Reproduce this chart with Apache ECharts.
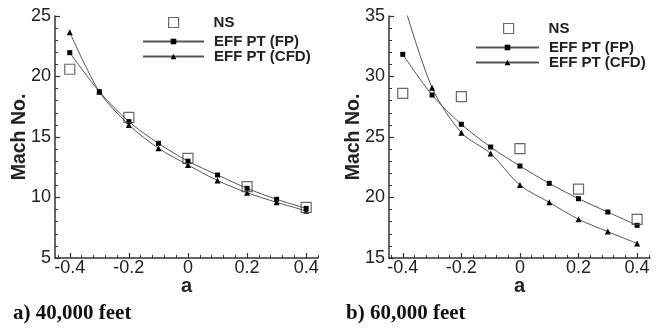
<!DOCTYPE html>
<html>
<head>
<meta charset="utf-8">
<script src="https://cdn.jsdelivr.net/npm/echarts@6/dist/echarts.min.js"></script>
<style>html,body{margin:0;padding:0;background:#fff;}#c{width:662px;height:330px;}</style>
</head>
<body>
<div id="c"></div>
<script>
// ---- data ----
const aValues = [-0.4, -0.3, -0.2, -0.1, 0, 0.1, 0.2, 0.3, 0.4];
const nsA = [-0.4, -0.2, 0, 0.2, 0.4];

const leftFP  = [21.97, 18.75, 16.27, 14.48, 13.0, 11.86, 10.76, 9.85, 9.1];
const leftCFD = [23.65, 18.75, 16.0, 14.07, 12.69, 11.4, 10.4, 9.6, 8.9];
const leftNS  = [20.6, 16.63, 13.24, 10.9, 9.19];

const rightFP  = [31.83, 28.47, 26.05, 24.17, 22.6, 21.17, 19.9, 18.8, 17.7];
const rightCFD = [36.3, 29.08, 25.36, 23.63, 21.03, 19.6, 18.2, 17.18, 16.2];
const rightNS  = [28.6, 28.34, 24.04, 20.7, 18.2];

const xMajorTicks = [-0.4, -0.2, 0, 0.2, 0.4];
const xMinorTicks = [-0.44, -0.36, -0.32, -0.28, -0.24, -0.16, -0.12, -0.08, -0.04,
                     0.04, 0.08, 0.12, 0.16, 0.24, 0.28, 0.32, 0.36, 0.44];
const leftYTicks = [5, 10, 15, 20, 25];
const rightYTicks = [15, 20, 25, 30, 35];
const leftYMinor = [6,7,8,9,11,12,13,14,16,17,18,19,21,22,23,24];
const rightYMinor = [16,17,18,19,21,22,23,24,26,27,28,29,31,32,33,34];

const seriesNames = ['NS', 'EFF PT (FP)', 'EFF PT (CFD)'];
const yName = 'Mach No.';
const xName = 'a';
const captions = ['a) 40,000 feet', 'b) 60,000 feet'];

// ---- helpers ----
const pair = (xs, ys) => xs.map((x, i) => [x, ys[i]]);
const AX = '#333';
const FONT = 'Liberation Sans, Arial, sans-serif';

function mainX(grid, min, max) {
  return {
    type: 'value', gridIndex: grid, min: min, max: max,
    name: xName, nameLocation: 'middle', nameGap: 18, nameMoveOverlap: false,
    nameTextStyle: { fontFamily: FONT, fontWeight: 'bold', fontSize: 20, color: '#222' },
    axisLine: { show: true, onZero: false, lineStyle: { color: AX, width: 1.5 } },
    axisTick: { show: true, inside: true, length: 5, customValues: xMajorTicks, lineStyle: { color: AX, width: 1.2 } },
    axisLabel: { show: true, margin: 1, customValues: xMajorTicks, fontFamily: FONT, fontSize: 18, color: '#222' },
    splitLine: { show: false }
  };
}
function minorX(grid, min, max) {
  return {
    type: 'value', gridIndex: grid, min: min, max: max, position: 'bottom',
    axisLine: { show: false, onZero: false },
    axisTick: { show: true, inside: true, length: 3, customValues: xMinorTicks, lineStyle: { color: AX, width: 1 } },
    axisLabel: { show: false },
    splitLine: { show: false }
  };
}
function mainY(grid, min, max, ticks) {
  return {
    type: 'value', gridIndex: grid, min: min, max: max,
    name: yName, nameLocation: 'middle', nameGap: 25, nameMoveOverlap: false,
    nameTextStyle: { fontFamily: FONT, fontWeight: 'bold', fontSize: 19.5, color: '#222' },
    axisLine: { show: true, onZero: false, lineStyle: { color: AX, width: 1.5 } },
    axisTick: { show: true, inside: true, length: 5, customValues: ticks, lineStyle: { color: AX, width: 1.2 } },
    axisLabel: { show: true, margin: 4, customValues: ticks, fontFamily: FONT, fontSize: 18, color: '#222' },
    splitLine: { show: false }
  };
}
function minorY(grid, min, max, ticks) {
  return {
    type: 'value', gridIndex: grid, min: min, max: max, position: 'left',
    axisLine: { show: false, onZero: false },
    axisTick: { show: true, inside: true, length: 3, customValues: ticks, lineStyle: { color: AX, width: 1 } },
    axisLabel: { show: false },
    splitLine: { show: false }
  };
}
function nsSeries(xi, yi, data) {
  return {
    type: 'scatter', name: seriesNames[0], xAxisIndex: xi, yAxisIndex: yi,
    data: pair(nsA, data), symbol: 'rect', symbolSize: 10, z: 3,
    itemStyle: { color: 'rgba(255,255,255,0)', borderColor: '#444', borderWidth: 1.2 }
  };
}
function lineSeries(name, xi, yi, data, sym, size) {
  return {
    type: 'line', name: name, xAxisIndex: xi, yAxisIndex: yi,
    data: pair(aValues, data), symbol: sym, symbolSize: size, smooth: 0.3, clip: true, z: 2,
    showAllSymbol: true,
    itemStyle: { color: '#000' },
    lineStyle: { color: '#555', width: 1 }
  };
}
const legendText = { fontFamily: FONT, fontWeight: 'bold', fontSize: 15, color: '#222' };
function legends(nsCenterX, lineLeft, lineW, nsCenterY, fpCenterY) {
  return [
    {
      left: nsCenterX - 5, top: nsCenterY - 8, padding: 0, orient: 'vertical', itemWidth: 10, itemHeight: 10,
      data: [{ name: seriesNames[0], icon: 'rect',
               itemStyle: { color: 'rgba(255,255,255,0)', borderColor: '#444', borderWidth: 1.2 } }],
      textStyle: Object.assign({ padding: [0, 0, 0, lineLeft + lineW + 5 - (nsCenterX + 5)] }, legendText),
      selectedMode: false
    },
    {
      left: lineLeft, top: fpCenterY - 6, padding: 0, orient: 'vertical', itemWidth: lineW, itemHeight: 7, itemGap: 0,
      data: [seriesNames[1], seriesNames[2]],
      textStyle: Object.assign({ padding: [0, 0, 0, 5] }, legendText),
      selectedMode: false
    }
  ];
}

const chart = echarts.init(document.getElementById('c'), null, { renderer: 'canvas' });
chart.setOption({
  animation: false,
  backgroundColor: '#fff',
  grid: [
    { left: 55, top: 16, width: 263, height: 242 },
    { left: 389, top: 16, width: 261, height: 242 }
  ],
  xAxis: [
    mainX(0, -0.45, 0.44), minorX(0, -0.45, 0.44),
    mainX(1, -0.447, 0.444), minorX(1, -0.447, 0.444)
  ],
  yAxis: [
    mainY(0, 5, 25, leftYTicks), minorY(0, 5, 25, leftYMinor),
    mainY(1, 15, 35, rightYTicks), minorY(1, 15, 35, rightYMinor)
  ],
  legend: legends(173, 142, 61, 23, 40).concat(legends(508, 475, 63, 29, 46)),
  title: [
    { text: captions[0], left: 13, top: 303, padding: 0, textStyle: { fontFamily: 'Liberation Serif, Times New Roman, serif', fontWeight: 'bold', fontSize: 21, color: '#111' } },
    { text: captions[1], left: 346, top: 303, padding: 0, textStyle: { fontFamily: 'Liberation Serif, Times New Roman, serif', fontWeight: 'bold', fontSize: 21, color: '#111' } }
  ],
  series: [
    nsSeries(0, 0, leftNS),
    lineSeries(seriesNames[1], 0, 0, leftFP, 'rect', 5),
    lineSeries(seriesNames[2], 0, 0, leftCFD, 'triangle', 6),
    nsSeries(2, 2, rightNS),
    lineSeries(seriesNames[1], 2, 2, rightFP, 'rect', 5),
    lineSeries(seriesNames[2], 2, 2, rightCFD, 'triangle', 6)
  ]
});
</script>
</body>
</html>
